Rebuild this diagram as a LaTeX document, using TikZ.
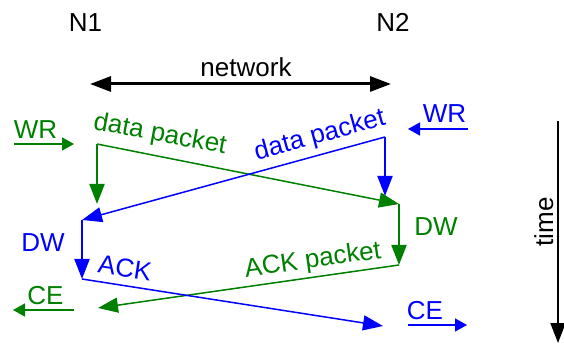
\documentclass[tikz,border=0pt]{standalone}
\usepackage{fontspec}
\setmainfont{Liberation Sans}
\usetikzlibrary{arrows.meta}
\definecolor{gr}{RGB}{0,128,0}
\definecolor{bl}{RGB}{0,0,255}
\begin{document}
\begin{tikzpicture}[x=1pt,y=-1pt, font=\fontsize{26}{31}\selectfont,
  lbl/.style={inner sep=0pt, anchor=base},
  rlbl/.style={inner sep=0pt, anchor=center},
  main/.style={line width=1.5pt, -{Triangle[length=20pt,width=15pt]}},
  vmain/.style={line width=2pt, -{Triangle[length=20pt,width=15pt]}},
  small/.style={line width=1.5pt, -{Triangle[length=12pt,width=13pt]}},
]
\useasboundingbox (0,0) rectangle (564,344);
% headers
\node[lbl] (n1) at (85.5,32) {N1};
\node[lbl] (n2) at (393,32) {N2};
\node[lbl] (net) at (246,77) {network};
\coordinate (netl) at (90,84);
\coordinate (netr) at (391,84);
\draw[line width=3pt, {Triangle[length=21pt,width=15pt]}-{Triangle[length=21pt,width=15pt]}] (netl) -- (netr);
% green flow
\node[lbl, text=gr] (wr1) at (35.5,139) {WR};
\coordinate (wr1a) at (14,144);
\coordinate (wr1b) at (74,144);
\draw[small, gr] (wr1a) -- (wr1b);
\coordinate (g1) at (97,144);
\coordinate (g1d) at (97,204);
\coordinate (g2) at (399,204);
\coordinate (g3) at (399,265);
\coordinate (g4) at (98,308);
\draw[vmain, gr] (g1) -- (g1d);
\draw[main, gr] (g1) -- (g2);
\draw[vmain, gr] (g2) -- (g3);
\draw[main, gr] (g3) -- (g4);
\node[rlbl, text=gr, rotate=-10.5] (gdp) at (160,135) {data packet};
\node[lbl, text=gr] (gdw) at (436,236) {DW};
\node[rlbl, text=gr, rotate=8.1] (gack) at (313,261) {ACK packet};
\node[lbl, text=gr] (gce) at (45.5,304) {CE};
\coordinate (gcea) at (74,310);
\coordinate (gceb) at (13,310);
\draw[small, gr] (gcea) -- (gceb);
% blue flow
\node[lbl, text=bl] (wr2) at (444.5,123) {WR};
\coordinate (wr2a) at (468,129);
\coordinate (wr2b) at (408,129);
\draw[small, bl] (wr2a) -- (wr2b);
\coordinate (b1) at (385,137);
\coordinate (b1d) at (385,196);
\coordinate (b2) at (82,220);
\coordinate (b3) at (82,279);
\coordinate (b4) at (383,326);
\draw[vmain, bl] (b1) -- (b1d);
\draw[main, bl] (b1) -- (b2);
\draw[vmain, bl] (b2) -- (b3);
\draw[main, bl] (b3) -- (b4);
\node[rlbl, text=bl, rotate=15.4] (bdp) at (320,136) {data packet};
\node[lbl, text=bl] (bdw) at (43,252) {DW};
\node[rlbl, text=bl, rotate=-8.7] (back) at (125,268) {ACK};
\node[lbl, text=bl] (bce) at (425,319) {CE};
\coordinate (bcea) at (408,325);
\coordinate (bceb) at (467,325);
\draw[small, bl] (bcea) -- (bceb);
% time
\coordinate (ta) at (558,121);
\coordinate (tb) at (558,343);
\draw[line width=2pt, -{Triangle[length=20pt,width=15pt]}] (ta) -- (tb);
\node[lbl, rotate=90] (time) at (553,222) {time};
\end{tikzpicture}
\end{document}
